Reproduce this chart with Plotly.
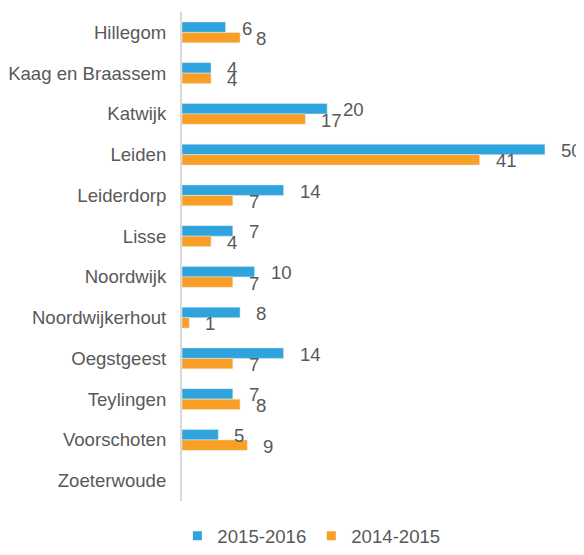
import plotly.graph_objects as go

# gemeenten (van boven naar beneden)
gemeenten = ["Hillegom", "Kaag en Braassem", "Katwijk", "Leiden", "Leiderdorp",
             "Lisse", "Noordwijk", "Noordwijkerhout", "Oegstgeest", "Teylingen",
             "Voorschoten", "Zoeterwoude"]
waarden_2015_2016 = [6, 4, 20, 50, 14, 7, 10, 8, 14, 7, 5, None]
waarden_2014_2015 = [8, 4, 17, 41, 7, 4, 7, 1, 7, 8, 9, None]

blauw = "#2FA3DB"
oranje = "#F99F25"
tekst = "#595959"
font_family = "Liberation Sans, Arial, sans-serif"
fs = 18.6

fig = go.Figure()

fig.add_trace(go.Bar(
    y=gemeenten, x=waarden_2015_2016, orientation="h",
    name="2015-2016", marker_color=blauw, showlegend=False,
))
fig.add_trace(go.Bar(
    y=gemeenten, x=waarden_2014_2015, orientation="h",
    name="2014-2015", marker_color=oranje, showlegend=False,
))

# legenda met kleine vierkantjes
for naam, kleur in [("2015-2016", blauw), ("2014-2015", oranje)]:
    fig.add_trace(go.Scatter(
        x=[None], y=[None], mode="markers", name=naam,
        marker=dict(symbol="square", size=9, color=kleur),
    ))

# datalabels
bargap = 0.485
off = (1 - bargap) / 4
for i, (a, b) in enumerate(zip(waarden_2015_2016, waarden_2014_2015)):
    for val, dy in [(a, -off), (b, off)]:
        if val is None:
            continue
        fig.add_annotation(
            x=val, y=i + dy, text=str(val), showarrow=False,
            xanchor="left", yanchor="middle", xshift=14, yshift=-1,
            font=dict(size=fs, color=tekst, family=font_family),
        )

# pagina heeft 8px body-marge, daarom kleiner dan het venster
fig.update_layout(
    width=576, height=539,
    margin=dict(l=174, r=10, t=4, b=46, autoexpand=False),
    paper_bgcolor="white", plot_bgcolor="white",
    barmode="group", bargap=bargap, bargroupgap=0,
    font=dict(family=font_family, size=fs, color=tekst),
    legend=dict(
        orientation="h", x=0.33, xanchor="center",
        yref="container", y=0.02, yanchor="middle",
        font=dict(size=fs, color=tekst), itemwidth=30, tracegroupgap=0,
    ),
    xaxis=dict(range=[0, 54], visible=False, fixedrange=True),
    yaxis=dict(
        type="category", autorange="reversed", automargin=False,
        showline=True, linecolor="#D9D9D9", linewidth=2,
        ticks="", ticklabelstandoff=10, showgrid=False,
        tickfont=dict(size=fs, color=tekst),
    ),
)

fig.write_html("out.html")
